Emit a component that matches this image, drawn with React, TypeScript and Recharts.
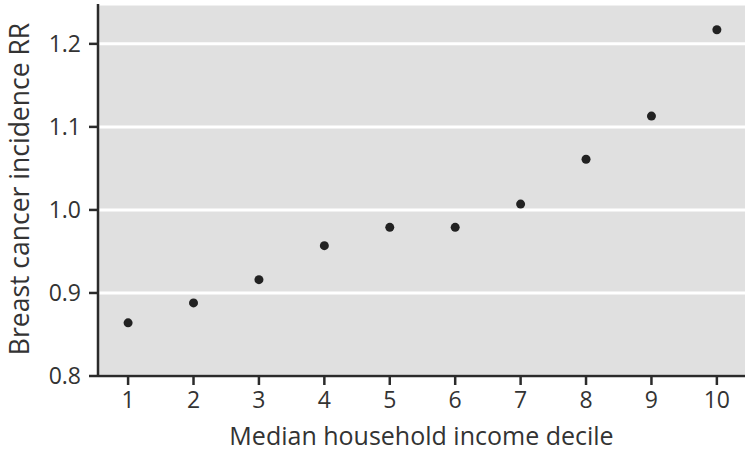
import { ScatterChart, Scatter, XAxis, YAxis, CartesianGrid, Label } from 'recharts'

const DECILES = [1, 2, 3, 4, 5, 6, 7, 8, 9, 10]
const RR_VALUES = [0.864, 0.888, 0.916, 0.957, 0.979, 0.979, 1.007, 1.061, 1.113, 1.217]
const X_TICKS = [1, 2, 3, 4, 5, 6, 7, 8, 9, 10]
const Y_TICKS = [0.8, 0.9, 1.0, 1.1, 1.2]

const FONT = '"Open Sans", sans-serif'
const AXIS_COLOR = '#2b2b2b'
const TEXT_COLOR = '#333'

const points = DECILES.map((d, i) => ({ decile: d, rr: RR_VALUES[i] }))

const YTitle = (props: any) => {
  const vb = props.viewBox || {}
  const x = 19
  const y = vb.y + vb.height / 2 - 1
  return (
    <text
      x={x}
      y={y}
      transform={`rotate(-90, ${x}, ${y})`}
      textAnchor="middle"
      dominantBaseline="central"
      fill={TEXT_COLOR}
      fontSize={26.5}
      fontFamily={FONT}
    >
      Breast cancer incidence RR
    </text>
  )
}

export default function App() {
  return (
    <div style={{ position: 'absolute', left: 0, top: 0, width: 750, height: 468, background: '#fff' }}>
      <ScatterChart width={750} height={468} margin={{ top: 4, right: 5, left: 0, bottom: 0 }}>
        <CartesianGrid fill="#e0e0e0" stroke="#ffffff" strokeWidth={3} vertical={false} />
        <XAxis
          type="number"
          dataKey="decile"
          domain={[0.54, 10.43]}
          ticks={X_TICKS}
          height={92}
          tickSize={9}
          tickMargin={7}
          stroke={AXIS_COLOR}
          strokeWidth={2.5}
          tick={{ fill: TEXT_COLOR, fontSize: 23, fontFamily: FONT }}
        >
          <Label
            value="Median household income decile"
            position="insideTop"
            offset={51}
            fill={TEXT_COLOR}
            fontSize={25}
            fontFamily={FONT}
          />
        </XAxis>
        <YAxis
          type="number"
          dataKey="rr"
          domain={[0.8, 1.248]}
          ticks={Y_TICKS}
          tickFormatter={(v: number) => v.toFixed(1)}
          width={98}
          tickSize={9}
          tickMargin={8}
          stroke={AXIS_COLOR}
          strokeWidth={2.5}
          tick={{ fill: TEXT_COLOR, fontSize: 23, fontFamily: FONT }}
        >
          <Label content={<YTitle />} />
        </YAxis>
        <Scatter
          data={points}
          fill="#222"
          isAnimationActive={false}
          shape={(p: any) => <circle cx={p.cx} cy={p.cy} r={4.5} fill="#222" />}
        />
      </ScatterChart>
    </div>
  )
}
